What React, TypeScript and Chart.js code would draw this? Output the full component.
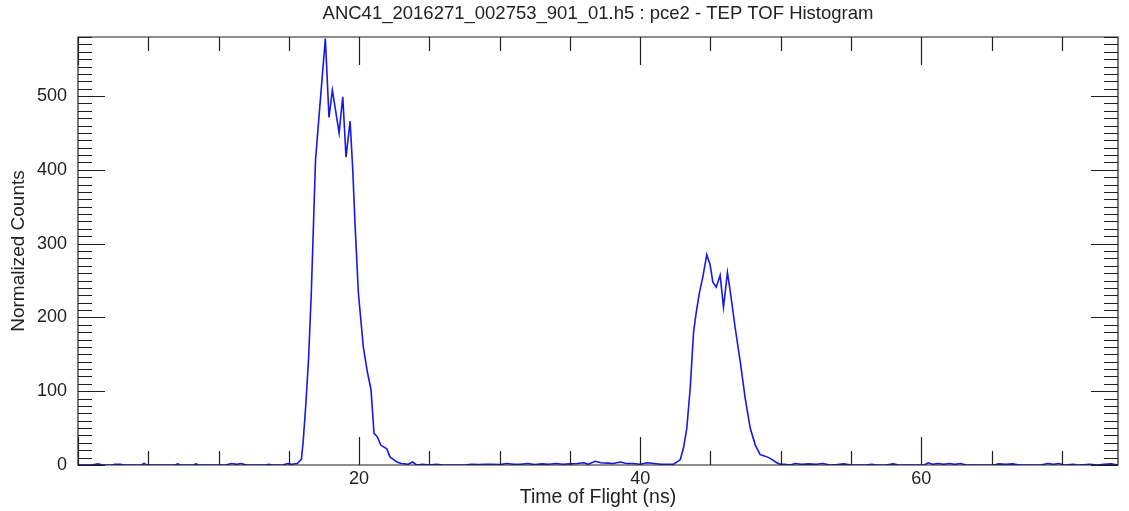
import React, { useEffect, useRef } from "react";
import { Chart, registerables } from "chart.js";

Chart.register(...registerables);

const titleText = "ANC41_2016271_002753_901_01.h5 : pce2 - TEP TOF Histogram";
const xTitle = "Time of Flight (ns)";
const yTitle = "Normalized Counts";

const xMajorTicks = [20, 40, 60];
const yMajorTicks = [0, 100, 200, 300, 400, 500];

// Time of flight (ns)
const tof = [
  0, 1.0, 1.4, 1.8, 2.5, 2.6, 3.0, 3.3, 4.5, 4.7, 4.9, 6.9, 7.1, 7.3, 8.2, 8.4, 8.6,
  10.5, 10.9, 11.3, 11.6, 12.0, 13.3, 13.6, 13.8, 14.6, 14.9, 15.2, 15.6,
  15.9, 16.03, 16.2, 16.4, 16.6, 16.75, 16.9, 17.1, 17.6, 17.86, 18.1, 18.58, 18.84,
  19.07, 19.36, 19.55, 19.72, 19.95, 20.3, 20.6, 20.85, 21.06, 21.3, 21.54, 21.97, 22.2,
  22.7, 23.0, 23.5, 23.8, 24.1, 24.5, 25.0, 25.5, 26.0, 27.5, 28.0, 28.5, 29.0, 29.5,
  30.0, 30.5, 31.0, 31.5, 32.0, 32.5, 33.0, 33.5, 34.0, 34.5, 35.0, 35.5, 36.0, 36.3,
  36.8, 37.2, 37.7, 38.1, 38.6, 39.0, 39.5, 40.0, 40.5, 41.0, 41.5, 42.0, 42.37,
  42.85, 43.08, 43.32, 43.56, 43.8, 43.99, 44.22, 44.46, 44.74, 44.98, 45.17, 45.41,
  45.69, 45.93, 46.21, 46.45, 46.76, 47.12, 47.47, 47.83, 48.19, 48.54, 48.9, 49.25,
  49.72, 49.96, 50.3, 50.7, 51.0, 51.5, 52.0, 52.5, 53.0, 53.5, 54.0, 54.5, 55.0, 56.0,
  56.5, 56.8, 57.5, 58.0, 58.4, 60.2, 60.5, 60.8, 61.2, 61.6, 62.0, 62.4, 62.8, 63.2,
  65.2, 65.5, 66.0, 66.5, 67.0, 68.5, 69.0, 69.4, 69.8, 70.2, 70.8, 71.2, 72.0, 72.5,
  73.0, 73.5, 74.0,
];

// Normalized counts
const counts = [
  0, 0, 1.5, 0, 0, 1, 1, 0, 0, 2, 0, 0, 1.5, 0, 0, 1.5, 0,
  0, 2, 1, 2, 0, 0, 1, 0, 0, 2, 1, 2,
  8, 34, 79, 142, 233, 323, 413, 461, 578, 471, 508, 450, 499,
  417, 466, 400, 323, 233, 160, 125, 102, 43, 38, 27, 22, 11,
  4, 2, 1, 4, 0, 1, 0, 1, 0, 0, 1, 0.5, 1, 1,
  0.5, 2, 1, 1, 2, 0.5, 1.5, 1, 2, 1, 1.5, 2, 3, 1,
  5, 3, 2.5, 2, 4, 2, 2, 1, 3, 2, 1, 1, 1,
  7, 23, 50, 104, 180, 207, 234, 255, 285, 271, 248, 241,
  257, 214, 261, 230, 186, 140, 91, 50, 27, 14, 12, 9,
  3, 1, 1, 0, 2, 1, 1.5, 1, 2, 0, 0.5, 1.5, 0, 0,
  1, 0, 0, 1.5, 0, 0, 3, 1, 2, 1, 2, 1, 2, 0,
  0, 1.5, 1, 1.5, 0, 0, 2, 1, 2, 0, 1, 0, 1, 0,
  1, 1.5, 0,
];

const FONT = "'Liberation Sans', Arial, Helvetica, sans-serif";
const AXIS_COLOR = "#1e1e1e";
const TEXT_COLOR = "#222";

const boxTicksPlugin = {
  id: "boxTicks",
  afterDraw(chart: any) {
    const { ctx, chartArea, scales } = chart;
    const { left, right, top, bottom } = chartArea;
    const xs = scales.x;
    const ys = scales.y;
    ctx.save();
    ctx.strokeStyle = AXIS_COLOR;
    ctx.lineWidth = 1.2;
    ctx.beginPath();
    ctx.rect(left, top, right - left, bottom - top);
    ctx.stroke();
    ctx.beginPath();
    for (let v = 0; v <= xs.max + 1e-9; v += 5) {
      const px = Math.round(xs.getPixelForValue(v)) + 0.5;
      const len = v % 20 === 0 ? 28 : 14;
      ctx.moveTo(px, bottom);
      ctx.lineTo(px, bottom - len);
      ctx.moveTo(px, top);
      ctx.lineTo(px, top + len);
    }
    for (let v = 0; v <= ys.max + 1e-9; v += 10) {
      const py = Math.round(ys.getPixelForValue(v)) + 0.5;
      const len = v % 100 === 0 ? 27 : 14;
      ctx.moveTo(left, py);
      ctx.lineTo(left + len, py);
      ctx.moveTo(right, py);
      ctx.lineTo(right - len, py);
    }
    ctx.stroke();
    ctx.restore();
  },
};

export default function App() {
  const ref = useRef<HTMLCanvasElement | null>(null);
  useEffect(() => {
    if (!ref.current) return;
    const points = tof.map((t, i) => ({ x: t, y: counts[i] }));
    const chart = new Chart(ref.current, {
      type: "line",
      data: {
        datasets: [
          {
            data: points,
            borderColor: "rgb(24, 24, 230)",
            borderWidth: 1.6,
            pointRadius: 0,
            tension: 0,
            fill: false,
          },
        ],
      },
      options: {
        animation: false,
        responsive: false,
        maintainAspectRatio: false,
        layout: { padding: { top: 0, right: 11, left: 0, bottom: 0 } },
        plugins: {
          legend: { display: false },
          tooltip: { enabled: false },
          title: {
            display: true,
            text: titleText,
            color: TEXT_COLOR,
            fullSize: false,
            font: { family: FONT, size: 18.5, weight: "normal" },
            padding: { top: 3, bottom: 11.8 },
          },
        },
        scales: {
          x: {
            type: "linear",
            min: 0,
            max: 74,
            afterFit(scale: any) {
              scale.height = 46;
            },
            afterBuildTicks(scale: any) {
              scale.ticks = xMajorTicks.map((v) => ({ value: v }));
            },
            grid: { display: false, drawTicks: false },
            border: { display: false },
            ticks: {
              color: TEXT_COLOR,
              padding: 3,
              maxRotation: 0,
              font: { family: FONT, size: 18 },
            },
            title: {
              display: true,
              text: xTitle,
              color: TEXT_COLOR,
              font: { family: FONT, size: 19.5 },
              padding: { top: 0, bottom: 2 },
            },
          },
          y: {
            type: "linear",
            min: 0,
            max: 580,
            afterFit(scale: any) {
              scale.width = 78;
            },
            afterBuildTicks(scale: any) {
              scale.ticks = yMajorTicks.map((v) => ({ value: v }));
            },
            grid: { display: false, drawTicks: false },
            border: { display: false },
            ticks: {
              color: TEXT_COLOR,
              padding: 11,
              font: { family: FONT, size: 18 },
            },
            title: {
              display: true,
              text: yTitle,
              color: TEXT_COLOR,
              font: { family: FONT, size: 19 },
              padding: { top: 7, bottom: 0 },
            },
          },
        },
      },
      plugins: [boxTicksPlugin],
    });
    return () => chart.destroy();
  }, []);

  return (
    <div
      style={{
        position: "fixed",
        left: 0,
        top: 0,
        width: 1129,
        height: 511,
        background: "#fff",
      }}
    >
      <canvas ref={ref} width={1129} height={511} style={{ width: 1129, height: 511 }} />
    </div>
  );
}
